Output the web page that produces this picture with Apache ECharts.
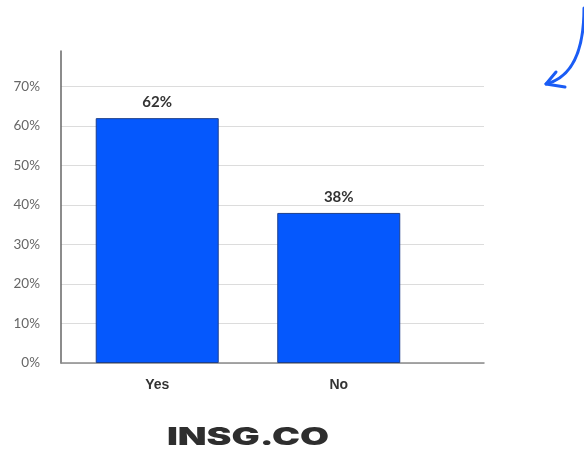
<!DOCTYPE html>
<html><head><meta charset="utf-8">
<script src="https://cdn.jsdelivr.net/npm/echarts@6/dist/echarts.min.js"></script>
<style>html,body{margin:0;padding:0;background:#fff}#c{width:584px;height:454px}</style>
</head><body><div id="c"></div>
<script>
const categories = ['Yes', 'No'];
const values = [62, 38];
const yTicks = [0, 10, 20, 30, 40, 50, 60, 70];

const chart = echarts.init(document.getElementById('c'), null, {renderer: 'canvas'});
chart.setOption({
  animation: false,
  backgroundColor: '#fff',
  grid: {left: 61, right: 100, top: 51, bottom: 91, containLabel: false},
  xAxis: {
    type: 'value', min: -0.53, max: 1.8,
    axisLine: {show: true, onZero: false, lineStyle: {color: '#8a8a8a', width: 1.5}},
    axisTick: {show: false},
    splitLine: {show: false},
    axisLabel: {
      customValues: categories.map((c, i) => i),
      formatter: v => categories[Math.round(v)] || '',
      color: '#333', fontFamily: 'Liberation Sans', fontWeight: 'bold', fontSize: 14, margin: 15
    }
  },
  yAxis: {
    type: 'value', min: 0, max: 79, interval: 10,
    axisLine: {show: true, onZero: false, lineStyle: {color: '#666', width: 1.5}},
    axisTick: {show: false},
    splitLine: {show: true, showMaxLine: false, lineStyle: {color: '#dcdcdc', width: 1}},
    axisLabel: {
      customValues: yTicks,
      formatter: v => v + '%',
      color: '#666', fontFamily: 'Lato', fontSize: 13.5, margin: 21
    }
  },
  series: [{
    type: 'bar',
    data: values.map((v, i) => [i, v]),
    barWidth: 123,
    itemStyle: {color: '#0558fd', borderColor: '#1d3f8c', borderWidth: 1},
    label: {show: true, position: 'top', distance: 8, formatter: p => p.value[1] + '%',
      color: '#333', fontFamily: 'Lato', fontWeight: 'bold', fontSize: 15}
  }],
  graphic: [
    {type: 'text', x: 248, y: 438, scaleX: 1.56, originX: 0, originY: 0,
      style: {text: 'INSG.CO', fill: '#2e2e2e', font: '900 24px Inter', textAlign: 'center', textVerticalAlign: 'middle'}},
    {type: 'bezierCurve', shape: {x1: 584, y1: 8, cpx1: 584, cpy1: 55, cpx2: 570, cpy2: 78, x2: 546, y2: 84},
      style: {stroke: '#1a5cf5', lineWidth: 3, fill: null, lineCap: 'round'}},
    {type: 'polyline', shape: {points: [[556, 72], [546, 84], [565, 87]]},
      style: {stroke: '#1a5cf5', lineWidth: 3, fill: null, lineCap: 'round', lineJoin: 'round'}}
  ]
});
</script></body></html>
